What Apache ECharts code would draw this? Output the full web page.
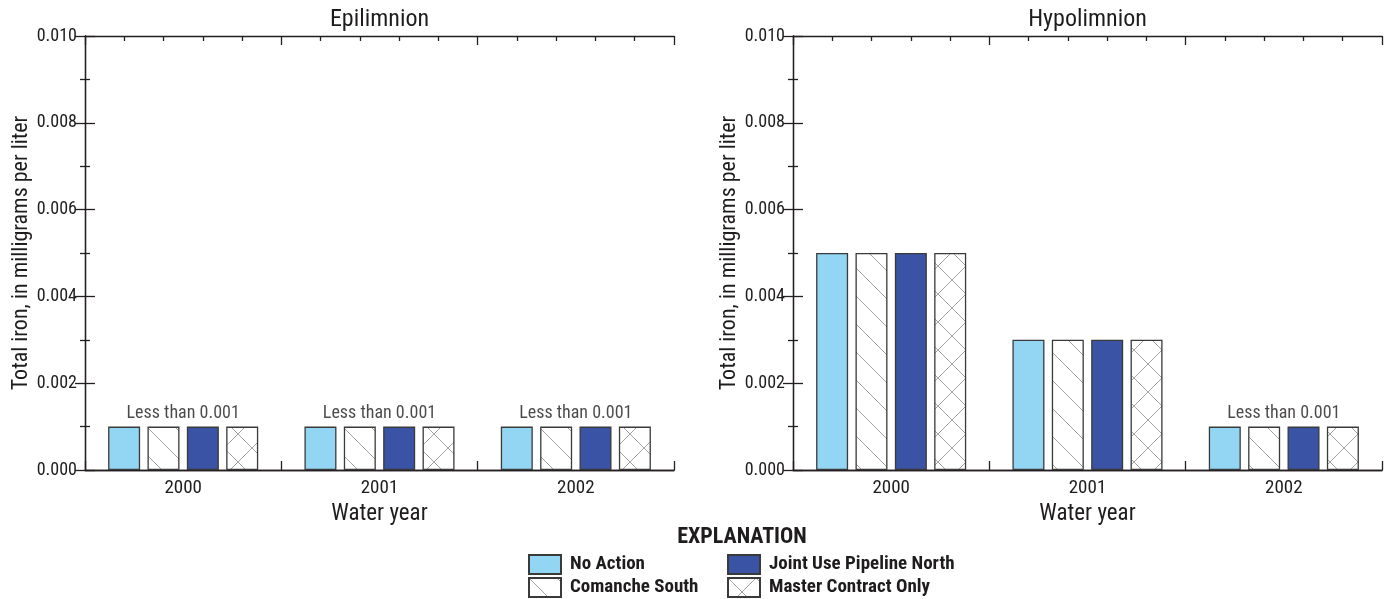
<!DOCTYPE html>
<html>
<head>
<meta charset="utf-8">
<script src="https://cdn.jsdelivr.net/npm/echarts@6/dist/echarts.min.js"></script>
<style>
html,body{margin:0;padding:0;background:#fff;}
#chart{width:1390px;height:599px;}
</style>
</head>
<body>
<div id="chart"></div>
<script>
// ---- data ----
const years = ['2000', '2001', '2002'];
const seriesNames = ['No Action', 'Comanche South', 'Joint Use Pipeline North', 'Master Contract Only'];
// Epilimnion (all reported as less than 0.001, drawn at 0.001)
const epiNoAction = [0.001, 0.001, 0.001];
const epiComanche = [0.001, 0.001, 0.001];
const epiJointUse = [0.001, 0.001, 0.001];
const epiMaster = [0.001, 0.001, 0.001];
const epiLessThan = [true, true, true];
// Hypolimnion
const hypoNoAction = [0.005, 0.003, 0.001];
const hypoComanche = [0.005, 0.003, 0.001];
const hypoJointUse = [0.005, 0.003, 0.001];
const hypoMaster = [0.005, 0.003, 0.001];
const hypoLessThan = [false, false, true];
const lessThanText = 'Less than 0.001';
const panelTitles = ['Epilimnion', 'Hypolimnion'];
const yAxisName = 'Total iron, in milligrams per liter';
const xAxisName = 'Water year';
const legendTitle = 'EXPLANATION';

// ---- styles ----
const FONT = "'Liberation Sans Narrow', 'Roboto Condensed', 'DejaVu Sans Condensed', 'Liberation Sans', sans-serif";
const TXT = '#1f1c1d';
const LINE = '#231f20';

function makePattern(cross) {
  const s = 28;
  const c = document.createElement('canvas');
  c.width = s; c.height = s;
  const g = c.getContext('2d');
  g.fillStyle = '#ffffff';
  g.fillRect(0, 0, s, s);
  g.strokeStyle = '#a3a3a3';
  g.lineWidth = 1;
  g.beginPath();
  g.moveTo(-2, -2); g.lineTo(s + 2, s + 2);
  if (cross) {
    g.moveTo(s + 2, -2); g.lineTo(-2, s + 2);
  }
  g.stroke();
  return c;
}
const diagPattern = { image: makePattern(false), repeat: 'repeat' };
const crossPattern = { image: makePattern(true), repeat: 'repeat' };
const fills = ['#93d6f4', diagPattern, '#3a53a4', crossPattern];

const grids = [
  { left: 85, right: 1390 - 674, top: 36, bottom: 599 - 470, outerBoundsMode: 'none', containLabel: false },
  { left: 793, right: 1390 - 1382, top: 36, bottom: 599 - 470, outerBoundsMode: 'none', containLabel: false }
];

const xAxes = [];
const yAxes = [];
grids.forEach((g, i) => {
  xAxes.push({
    type: 'category', gridIndex: i, data: years, position: 'bottom',
    axisLine: { show: true, lineStyle: { color: LINE, width: 1.3 } },
    axisTick: { show: false },
    axisLabel: { fontFamily: FONT, fontSize: 19, color: TXT, margin: 9 },
    name: xAxisName, nameLocation: 'middle', nameGap: 31,
    nameTextStyle: { fontFamily: FONT, fontSize: 23, color: TXT }
  });
  ['bottom', 'top'].forEach(pos => {
    xAxes.push({
      type: 'value', gridIndex: i, position: pos, min: 0, max: 15, interval: 5,
      axisLine: { show: true, lineStyle: { color: LINE, width: 1.3 } },
      axisTick: { show: true, inside: true, length: 9, lineStyle: { color: LINE, width: 1.3 } },
      minorTick: { show: true, splitNumber: 5, length: 5, lineStyle: { color: LINE, width: 1.3 } },
      axisLabel: { show: false }, splitLine: { show: false }, minorSplitLine: { show: false },
      name: pos === 'top' ? panelTitles[i] : '', nameLocation: 'middle', nameGap: 4,
      nameTextStyle: { fontFamily: FONT, fontSize: 24, color: TXT }
    });
  });
  ['left', 'right'].forEach(pos => {
    yAxes.push({
      type: 'value', gridIndex: i, position: pos, min: 0, max: 0.010, interval: 0.002,
      axisLine: { show: true, lineStyle: { color: LINE, width: 1.3 } },
      axisTick: { show: true, inside: true, length: 10, lineStyle: { color: LINE, width: 1.3 } },
      minorTick: { show: true, splitNumber: 2, length: 5, lineStyle: { color: LINE, width: 1.3 } },
      splitLine: { show: false }, minorSplitLine: { show: false },
      axisLabel: { show: pos === 'left', fontFamily: FONT, fontSize: 18, color: TXT, margin: 8,
        formatter: v => v.toFixed(3) },
      name: pos === 'left' ? yAxisName : '', nameLocation: 'middle', nameGap: 52,
      nameTextStyle: { fontFamily: FONT, fontSize: 22, color: TXT }
    });
  });
});

const panelData = [
  [epiNoAction, epiComanche, epiJointUse, epiMaster],
  [hypoNoAction, hypoComanche, hypoJointUse, hypoMaster]
];
const lessFlags = [epiLessThan, hypoLessThan];

const series = [];
panelData.forEach((arrs, p) => {
  arrs.forEach((vals, k) => {
    series.push({
      type: 'bar', name: seriesNames[k], xAxisIndex: p * 3, yAxisIndex: p * 2,
      data: vals, barWidth: 32, barGap: '23%',
      itemStyle: { color: fills[k], borderColor: '#3a3a3a', borderWidth: 1.3 },
      emphasis: { disabled: true }, animation: false
    });
  });
  series.push({
    type: 'scatter', xAxisIndex: p * 3, yAxisIndex: p * 2, symbolSize: 0, silent: true,
    data: years.map((y, j) => lessFlags[p][j] ? [y, Math.max(...arrs.map(a => a[j]))] : null).filter(d => d),
    label: { show: true, position: 'top', distance: 4, formatter: lessThanText,
      fontFamily: FONT, fontSize: 18, color: TXT },
    animation: false
  });
});

const legendPos = [[528, 554], [528, 577], [727, 554], [727, 577]];
const legends = [0, 1, 2, 3].map(k => ({
  left: legendPos[k][0], top: legendPos[k][1], data: [seriesNames[k]],
  orient: 'horizontal', itemWidth: 32, itemHeight: 19, icon: 'rect',
  textStyle: { fontFamily: FONT, fontSize: 19, fontWeight: 'bold', color: TXT, padding: [0, 0, 0, 4] },
  selectedMode: false, padding: 0, itemGap: 0
}));

const option = {
  animation: false,
  title: {
    text: legendTitle, left: 737, textAlign: 'center', top: 521,
    textStyle: { fontFamily: FONT, fontSize: 22, fontWeight: 'bold', color: TXT }
  },
  legend: legends,
  grid: grids,
  xAxis: xAxes,
  yAxis: yAxes,
  series: series
};

const chart = echarts.init(document.getElementById('chart'), null, { renderer: 'canvas' });
chart.setOption(option);
</script>
</body>
</html>
